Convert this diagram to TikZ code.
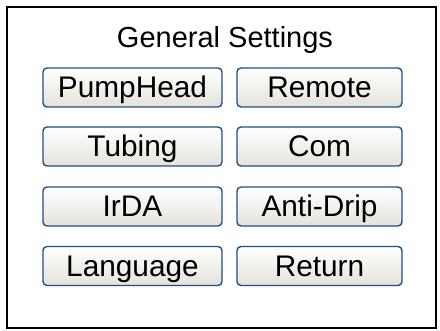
\documentclass[tikz,border=0pt]{standalone}
\usepackage{fontspec}
\setmainfont{Liberation Sans}
\definecolor{btnedge}{HTML}{1F4F86}
\definecolor{btnbottom}{HTML}{E4E2DA}
\begin{document}
\begin{tikzpicture}[x=1pt,y=1pt,
  panel/.style={draw=black, line width=2pt},
  btn/.style={draw=btnedge, line width=1.4pt, rounded corners=4pt,
    top color=white, bottom color=btnbottom,
    minimum height=39pt, inner sep=0pt,
    text height=21pt, text depth=0pt,
    font=\fontsize{29.8}{30}\selectfont},
  wide/.style={btn, minimum width=179pt},
  narrow/.style={btn, minimum width=165pt}]
  \useasboundingbox (0,0) rectangle (440,331);
  % outer panel
  \draw[panel] (7,3) rectangle (436,324);
  % heading
  \node[anchor=base, inner sep=0pt, font=\fontsize{29}{30}\selectfont] (title) at (225,283) {General Settings};
  % menu buttons
  \node[wide]   (pump)     at (132.5,243.5) {PumpHead};
  \node[narrow] (remote)   at (319.5,243.5) {Remote};
  \node[wide]   (tubing)   at (132.5,184.5) {Tubing};
  \node[narrow] (com)      at (319.5,184.5) {Com};
  \node[wide]   (irda)     at (132.5,124.5) {IrDA};
  \node[narrow] (antidrip) at (319.5,124.5) {Anti-Drip};
  \node[wide]   (lang)     at (132.5,65)    {Language};
  \node[narrow] (ret)      at (319.5,65)    {Return};
\end{tikzpicture}
\end{document}
